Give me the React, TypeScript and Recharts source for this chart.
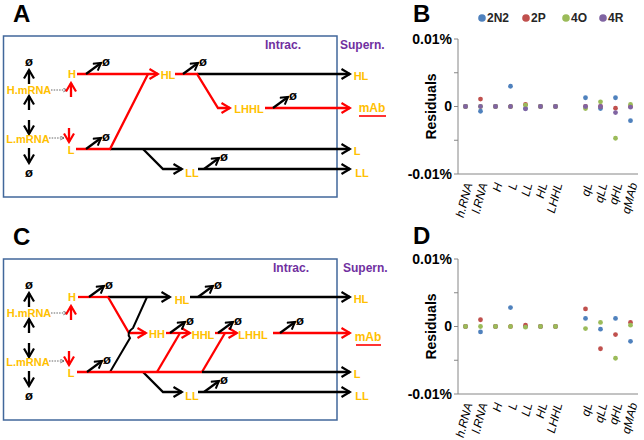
import React from 'react';
import { ComposedChart, Scatter, XAxis, YAxis } from 'recharts';

const FONT = '"Liberation Sans", Arial, sans-serif';
const GOLD = '#ffc000';
const RED = '#ff0000';
const INK = '#000000';
const PURPLE = '#7030a0';
const BOX = '#41679b';
const AXIS = '#868686';

// x categories of the residual plots ('' is the empty slot between groups)
const categories = ['h.RNA', 'l.RNA', 'H', 'L', 'LL', 'HL', 'LHHL', '', 'qL', 'qLL', 'qHL', 'qMAb'];
const seriesNames = ['2N2', '2P', '4O', '4R'];
const seriesColors = ['#4f81bd', '#c0504d', '#9bbb59', '#8064a2'];
const yTicks = [-0.01, -0.005, 0, 0.005, 0.01];

// residuals (in %)
const b2N2 = [0, -0.0007, 0, 0.003, -0.0003, 0, 0, null, 0.0013, -0.0003, 0.0013, -0.0021];
const b2P = [0, 0.0011, 0, 0, 0.0003, 0, 0, null, 0, 0, -0.00025, 0];
const b4O = [0, 0, 0, 0, 0.0002, 0, 0, null, -0.0003, 0.0007, -0.0047, 0.0003];
const b4R = [0, 0, 0, 0, -0.00035, 0, 0, null, 0, 0, -0.0009, -0.0001];

// residuals (in %)
const d2N2 = [0, -0.0008, 0, 0.0028, 0, 0, 0, null, 0.0012, -0.0004, 0.0012, -0.0022];
const d2P = [0, 0.001, 0, 0, 0.0002, 0, 0, null, 0.0026, -0.0033, -0.0012, 0.0006];
const d4O = [0, 0, 0, 0, -0.0001, 0, 0, null, -0.0003, 0.0006, -0.0047, 0.0002];

const rowsB = categories.map((cat, i) => ({ cat, s2N2: b2N2[i], s2P: b2P[i], s4O: b4O[i], s4R: b4R[i] }));
const rowsD = categories.map((cat, i) => ({ cat, s2N2: d2N2[i], s2P: d2P[i], s4O: d4O[i] }));

const makeDot = (key: string, color: string) => (p: any) => {
  if (p.payload == null || p.payload[key] == null || p.cx == null || p.cy == null) return <g />;
  return <circle cx={p.cx} cy={p.cy} r={2.4} fill={color} />;
};

const CatTick = ({ x, y, payload }: any) => (
  <text
    transform={`translate(${x + 3},${y + 1}) rotate(-75)`}
    textAnchor="end"
    dy="0.35em"
    fontSize={12}
    fontStyle="italic"
    fontFamily={FONT}
    fill="#000"
  >
    {payload.value}
  </text>
);

const ResidualLabel = ({ viewBox }: any) => {
  const cx = viewBox.x + 36;
  const cy = viewBox.y + viewBox.height / 2;
  return (
    <text x={cx} y={cy} transform={`rotate(-90, ${cx}, ${cy})`} textAnchor="middle" fontSize={14} fontWeight={700} fontFamily={FONT} fill="#000">
      Residuals
    </text>
  );
};

const yFormat = (v: number) => (v === 0.01 ? '0.01%' : v === -0.01 ? '-0.01%' : v === 0 ? '0' : '');

function ResidualPlot({ rows, keys }: { rows: any[]; keys: string[] }) {
  return (
    <ComposedChart width={244} height={220} data={rows} margin={{ top: 39, right: 6, bottom: 0, left: 0 }}>
      <XAxis
        dataKey="cat"
        type="category"
        interval={0}
        height={46}
        padding={{ left: 7.5, right: 7.5 }}
        tickLine={false}
        axisLine={{ stroke: AXIS }}
        tick={<CatTick />}
      />
      <YAxis
        type="number"
        domain={[-0.01, 0.01]}
        ticks={yTicks}
        interval={0}
        width={58}
        tickSize={4}
        tickMargin={2}
        tickLine={{ stroke: AXIS }}
        axisLine={{ stroke: AXIS }}
        tickFormatter={yFormat}
        tick={{ fontSize: 14, fontWeight: 700, fill: '#000', fontFamily: FONT }}
        label={{ position: 'insideLeft', content: ResidualLabel }}
      />
      {keys.map((k) => {
        const idx = seriesNames.indexOf(k.slice(1));
        return (
          <Scatter key={k} dataKey={k} fill={seriesColors[idx]} shape={makeDot(k, seriesColors[idx])} isAnimationActive={false} />
        );
      })}
    </ComposedChart>
  );
}

type P = [number, number];

function Seg({ pts, color = INK, head = true, w = 2.3 }: { pts: P[]; color?: string; head?: boolean; w?: number }) {
  const d = pts.map((p, i) => `${i ? 'L' : 'M'}${p[0]},${p[1]}`).join(' ');
  const m = color === RED ? 'url(#hr)' : 'url(#hk)';
  return <path d={d} fill="none" stroke={color} strokeWidth={w} strokeLinejoin="miter" markerEnd={head ? m : undefined} />;
}

function Txt({ x, y, c = GOLD, size = 11, children }: any) {
  return (
    <text x={x} y={y} fill={c} fontSize={size} fontWeight={700} fontFamily={FONT} textAnchor="middle" dominantBaseline="central">
      {children}
    </text>
  );
}

// short degradation arrow ending in an empty set symbol
function Decay({ x, y }: { x: number; y: number }) {
  return (
    <g>
      <path d={`M${x},${y} L${x + 15},${y - 11}`} stroke={INK} strokeWidth={2.2} markerEnd="url(#hs)" />
      <Txt x={x + 20} y={y - 13} c={INK} size={13}>ø</Txt>
    </g>
  );
}

function Dotted({ x1, x2, y }: { x1: number; x2: number; y: number }) {
  return <path d={`M${x1},${y} L${x2},${y}`} stroke="#555" strokeWidth={0.9} strokeDasharray="1.5 1.2" markerEnd="url(#hd)" />;
}

// parts shared by panels A and C (coordinates relative to panel A)
function Common({ letter, intracX, supernX }: { letter: string; intracX: number; supernX: number }) {
  return (
    <g>
      <text x={13} y={22} fontSize={24} fontWeight={700} fontFamily={FONT} fill="#000">{letter}</text>
      <rect x={3.5} y={36} width={333.5} height={161} fill="none" stroke={BOX} strokeWidth={1.5} />
      <text x={intracX} y={49} fill={PURPLE} fontSize={12} fontWeight={700} fontFamily={FONT}>Intrac.</text>
      <text x={supernX} y={49} fill={PURPLE} fontSize={12} fontWeight={700} fontFamily={FONT}>Supern.</text>

      <Txt x={29} y={61} c={INK} size={13}>ø</Txt>
      <Seg pts={[[29, 84], [29, 70]]} />
      <Txt x={29} y={90}>H.mRNA</Txt>
      <Seg pts={[[29, 110], [29, 96]]} />
      <Seg pts={[[29, 120], [29, 134]]} />
      <Txt x={28} y={139}>L.mRNA</Txt>
      <Seg pts={[[29, 148], [29, 163]]} />
      <Txt x={29} y={172} c={INK} size={13}>ø</Txt>
      <Dotted x1={51} x2={67} y={90} />
      <Seg pts={[[71, 97], [71, 83]]} color={RED} />
      <Dotted x1={49} x2={64} y={138} />
      <Seg pts={[[69, 128], [69, 142]]} color={RED} />

      <Txt x={72} y={74}>H</Txt>
      <Txt x={71} y={150}>L</Txt>
      <Seg pts={[[143, 149], [163, 169], [182, 169]]} />
      <Txt x={192} y={173}>LL</Txt>
      <Seg pts={[[198, 169], [350, 169]]} />
      <Decay x={204} y={169} />

      <Txt x={361} y={76}>HL</Txt>
      <Txt x={357} y={151}>L</Txt>
      <Txt x={362} y={173}>LL</Txt>
    </g>
  );
}

function PanelA() {
  return (
    <g>
      <Common letter="A" intracX={265} supernX={340} />
      <Seg pts={[[110, 149], [350, 149]]} />
      <Seg pts={[[76, 149], [110, 149], [148, 74]]} color={RED} head={false} />
      <Seg pts={[[77, 74], [158, 74]]} color={RED} />
      <Decay x={86} y={74} />
      <Decay x={86} y={149} />
      <Txt x={168} y={75}>HL</Txt>
      <Seg pts={[[197, 74], [350, 74]]} />
      <Seg pts={[[175, 74], [197, 74], [218, 108], [230, 108]]} color={RED} />
      <Decay x={183} y={74} />
      <Txt x={249} y={109}>LHHL</Txt>
      <Seg pts={[[265, 108], [350, 108]]} color={RED} />
      <Decay x={273} y={108} />
      <Txt x={372} y={108} size={12}>mAb</Txt>
      <path d="M359,116 L386,116" stroke={RED} strokeWidth={1.6} />
    </g>
  );
}

function PanelC() {
  return (
    <g transform="translate(0,223)">
      <Common letter="C" intracX={273} supernX={343} />
      <Seg pts={[[108, 74], [170, 74]]} />
      <Seg pts={[[78, 74], [108, 74]]} color={RED} head={false} />
      <Decay x={89} y={74} />
      <Txt x={182} y={77}>HL</Txt>
      <Seg pts={[[190, 74], [350, 74]]} />
      <Decay x={198} y={74} />
      <Seg pts={[[108, 74], [129, 110], [146, 110]]} color={RED} />
      <path d="M147,74 L133,105 Q126,110 130,115 L110,149" fill="none" stroke={INK} strokeWidth={2} />
      <Txt x={157} y={111}>HH</Txt>
      <Seg pts={[[166, 110], [190, 110]]} color={RED} />
      <Seg pts={[[157, 149], [180, 110]]} color={RED} head={false} />
      <Decay x={170} y={110} />
      <Txt x={203} y={112}>HHL</Txt>
      <Seg pts={[[215, 110], [237, 110]]} color={RED} />
      <Seg pts={[[202, 149], [225, 110]]} color={RED} head={false} />
      <Decay x={218} y={110} />
      <Txt x={253} y={112}>LHHL</Txt>
      <Seg pts={[[273, 110], [350, 110]]} color={RED} />
      <Decay x={280} y={110} />
      <Txt x={368} y={114} size={12}>mAb</Txt>
      <path d="M356,122 L381,122" stroke={RED} strokeWidth={1.6} />
      <Seg pts={[[202, 149], [350, 149]]} />
      <Seg pts={[[77, 149], [202, 149]]} color={RED} head={false} />
      <Decay x={87} y={149} />
    </g>
  );
}

export default function App() {
  return (
    <div style={{ position: 'fixed', left: 0, top: 0, width: 644, height: 440, background: '#fff', overflow: 'hidden' }}>
      <svg width={644} height={440} style={{ position: 'absolute', left: 0, top: 0 }}>
        <defs>
          <marker id="hk" viewBox="0 0 12 12" refX={10} refY={6} markerWidth={12} markerHeight={12} markerUnits="userSpaceOnUse" orient="auto">
            <path d="M1.5,1 L10,6 L1.5,11" fill="none" stroke={INK} strokeWidth={2.2} />
          </marker>
          <marker id="hr" viewBox="0 0 12 12" refX={10} refY={6} markerWidth={12} markerHeight={12} markerUnits="userSpaceOnUse" orient="auto">
            <path d="M1.5,1 L10,6 L1.5,11" fill="none" stroke={RED} strokeWidth={2.2} />
          </marker>
          <marker id="hs" viewBox="0 0 12 12" refX={10} refY={6} markerWidth={10} markerHeight={10} markerUnits="userSpaceOnUse" orient="auto">
            <path d="M1.5,1 L10,6 L1.5,11" fill="none" stroke={INK} strokeWidth={2.4} />
          </marker>
          <marker id="hd" viewBox="0 0 8 8" refX={7} refY={4} markerWidth={5} markerHeight={5} markerUnits="userSpaceOnUse" orient="auto">
            <path d="M1,1 L7,4 L1,7" fill="none" stroke="#555" strokeWidth={1.2} />
          </marker>
        </defs>
        <PanelA />
        <PanelC />
        <text x={413} y={22} fontSize={24} fontWeight={700} fontFamily={FONT} fill="#000">B</text>
        <text x={413} y={244} fontSize={24} fontWeight={700} fontFamily={FONT} fill="#000">D</text>
        {seriesNames.map((n, i) => {
          const lx = [482, 526, 566, 603][i];
          return (
            <g key={n}>
              <circle cx={lx} cy={18} r={3.8} fill={seriesColors[i]} />
              <text x={lx + 5} y={22} fontSize={12} fontWeight={700} fontFamily={FONT} fill="#262626">{n}</text>
            </g>
          );
        })}
      </svg>
      <div style={{ position: 'absolute', left: 400, top: 0 }}>
        <ResidualPlot rows={rowsB} keys={['s2N2', 's2P', 's4O', 's4R']} />
      </div>
      <div style={{ position: 'absolute', left: 400, top: 220 }}>
        <ResidualPlot rows={rowsD} keys={['s2N2', 's2P', 's4O']} />
      </div>
    </div>
  );
}
